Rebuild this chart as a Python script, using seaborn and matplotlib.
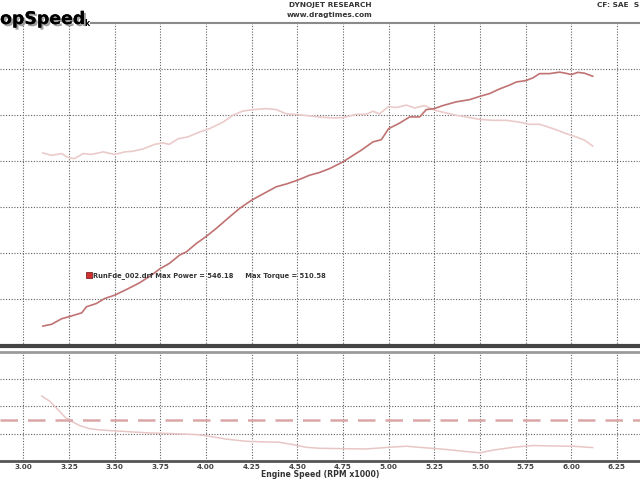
import matplotlib
matplotlib.use("Agg")
import matplotlib.pyplot as plt
import matplotlib.patheffects as pe
import seaborn as sns
import pandas as pd
import numpy as np

# ---------------- data ----------------
power_rpm = [3.106, 3.155, 3.21, 3.264, 3.32, 3.346, 3.40, 3.446, 3.50, 3.565, 3.637, 3.70,
             3.747, 3.80, 3.856, 3.893, 3.947, 4.00, 4.057, 4.13, 4.184, 4.25, 4.31, 4.385,
             4.44, 4.50, 4.567, 4.622, 4.677, 4.75, 4.805, 4.85, 4.914, 4.96, 5.00, 5.06,
             5.115, 5.17, 5.206, 5.25, 5.297, 5.37, 5.443, 5.50, 5.553, 5.607, 5.66, 5.70,
             5.75, 5.79, 5.826, 5.88, 5.936, 5.97, 6.00, 6.036, 6.073, 6.118]
power_hp = [271, 273, 279, 282, 285.4, 292, 295.5, 301, 304.5, 310.7, 318, 326,
            333, 339, 348, 351.5, 360.5, 368, 377, 389.5, 398.5, 407.5, 414, 422,
            425, 429, 434.5, 437.5, 441.7, 449, 456, 461.6, 470.6, 473, 485, 491,
            497.7, 497.7, 505.6, 506.7, 510, 514, 516.4, 520, 523, 528, 532, 535.6,
            537, 540, 544.6, 544.6, 546.2, 545, 543.5, 546, 545, 541.7]

torque_rpm = [3.106, 3.155, 3.21, 3.246, 3.28, 3.328, 3.373, 3.437, 3.50, 3.556, 3.60, 3.656,
              3.72, 3.765, 3.80, 3.847, 3.90, 3.966, 4.02, 4.093, 4.148, 4.20, 4.257, 4.33,
              4.385, 4.44, 4.51, 4.585, 4.622, 4.695, 4.75, 4.823, 4.878, 4.914, 4.95, 5.00,
              5.04, 5.097, 5.142, 5.197, 5.25, 5.316, 5.37, 5.443, 5.50, 5.57, 5.644, 5.717,
              5.77, 5.826, 5.90, 5.972, 6.027, 6.073, 6.118]
torque_lbft = [458.7, 456, 458, 453.6, 452.5, 458, 457, 459.8, 457, 459.8, 460.5, 463,
               468, 469.5, 468, 474, 476, 481.4, 485, 492, 499.5, 504, 505.6, 506.7,
               505.6, 501, 500, 498.4, 497.5, 496.6, 497, 500.5, 500.5, 503.8, 501, 509,
               507.8, 510.5, 507.4, 510, 505, 502, 499.5, 497, 495, 494, 494, 492,
               489.7, 489.7, 485, 479.6, 476, 472.4, 466]

afr_rpm = [3.10, 3.146, 3.19, 3.228, 3.264, 3.31, 3.364, 3.42, 3.50, 3.60, 3.69, 3.82,
           3.947, 4.00, 4.11, 4.22, 4.31, 4.40, 4.475, 4.55, 4.62, 4.75, 4.878, 5.00,
           5.097, 5.206, 5.316, 5.425, 5.50, 5.57, 5.68, 5.79, 5.90, 6.01, 6.118]
afr = [14.76, 14.35, 13.75, 13.21, 12.9, 12.58, 12.36, 12.27, 12.2, 12.12, 12.05, 12.0,
       11.93, 11.85, 11.6, 11.44, 11.4, 11.37, 11.2, 11.0, 10.93, 10.9, 10.88, 11.0,
       11.08, 10.96, 10.84, 10.69, 10.6, 10.79, 11.0, 11.13, 11.1, 11.08, 10.98]
afr_target = 13.0

x_ticks = [3.00, 3.25, 3.50, 3.75, 4.00, 4.25, 4.50, 4.75, 5.00, 5.25, 5.50, 5.75, 6.00, 6.25]
top_yticks = [300, 350, 400, 450, 500, 550]
low_yticks = [12, 14, 16]

run_name = "RunFde_002.drf"
max_power = 546.18
max_torque = 510.58

# ---------------- styling ----------------
sns.set_style("white")
plt.rcParams['font.family'] = ['DejaVu Sans']

power_color = "#c07272"
torque_color = "#ebcaca"
afr_color = "#e8c6c6"
dash_color = "#dba6a6"
grid_kw = dict(color="#606060", linestyle=(0, (1, 1.5)), linewidth=0.8)

fig = plt.figure(figsize=(6.4, 4.8), dpi=100)
H = 480.0
ax1 = fig.add_axes([0.0, 1 - 345.5 / H, 1.0, (345.5 - 22.5) / H])
ax2 = fig.add_axes([0.0, 1 - 461.0 / H, 1.0, (461.0 - 351.5) / H])

xlim = (2.8725, 6.376)

df_p = pd.DataFrame({"rpm": power_rpm, "val": power_hp})
df_t = pd.DataFrame({"rpm": torque_rpm, "val": torque_lbft})
df_a = pd.DataFrame({"rpm": afr_rpm, "val": afr})

sns.lineplot(data=df_t, x="rpm", y="val", ax=ax1, color=torque_color, linewidth=1.2,
             sort=False, estimator=None)
sns.lineplot(data=df_p, x="rpm", y="val", ax=ax1, color=power_color, linewidth=1.2,
             sort=False, estimator=None)

ax1.set_xlim(*xlim)
ax1.set_ylim(250, 600)
ax1.set_xticks(x_ticks)
ax1.set_yticks(top_yticks)
ax1.grid(True, **grid_kw)
ax1.set_axisbelow(True)
ax1.tick_params(labelbottom=False, labelleft=False, length=0)
ax1.set_xlabel("")
ax1.set_ylabel("")
for s in ["left", "right"]:
    ax1.spines[s].set_visible(False)
ax1.spines["top"].set_color("#8a8a8a")
ax1.spines["top"].set_linewidth(1.5)
ax1.spines["bottom"].set_color("#444444")
ax1.spines["bottom"].set_linewidth(3)

# legend-like annotation
ax1.scatter([3.361], [326.2], marker="s", s=14, color="#d03030",
            edgecolor="#6a1010", linewidth=0.5, zorder=5)
ax1.text(3.383, 326.2,
         f"{run_name} Max Power = {max_power:.2f}     Max Torque = {max_torque:.2f}",
         fontsize=4.9, fontweight="bold", color="#333333", va="center", ha="left")

# lower panel
sns.lineplot(data=df_a, x="rpm", y="val", ax=ax2, color=afr_color, linewidth=1.1,
             sort=False, estimator=None)
ax2.axhline(afr_target, color=dash_color, linewidth=1.8, linestyle=(0, (7, 4)))
ax2.set_xlim(*xlim)
ax2.set_ylim(10, 18)
ax2.set_xticks(x_ticks)
ax2.set_xticks(np.arange(2.9, 6.38, 0.05), minor=True)
ax2.set_yticks(low_yticks)
ax2.grid(True, which="major", **grid_kw)
ax2.set_axisbelow(True)
ax2.set_xticklabels([f"{t:.2f}" for t in x_ticks], fontsize=5.2, fontweight="bold",
                    color="#444444")
ax2.tick_params(axis="x", which="major", length=3, width=1, direction="inout",
                color="#555555", pad=0.5)
ax2.tick_params(axis="x", which="minor", length=3, width=0.8, direction="inout",
                color="#555555")
ax2.tick_params(axis="y", labelleft=False, length=0)
ax2.set_xlabel("")
ax2.set_ylabel("")
for s in ["left", "right"]:
    ax2.spines[s].set_visible(False)
ax2.spines["top"].set_color("#9a9a9a")
ax2.spines["top"].set_linewidth(2)
ax2.spines["bottom"].set_color("#555555")
ax2.spines["bottom"].set_linewidth(2)

fig.text(320 / 640, 1 / H, "Engine Speed (RPM x1000)", fontsize=5.6,
         fontweight="bold", color="#333333", ha="center", va="bottom")

# header texts
fig.text(330 / 640, 1 - 5 / H, "DYNOJET RESEARCH", fontsize=5.3, fontweight="bold",
         color="#333333", ha="center", va="center")
fig.text(330 / 640, 1 - 15.5 / H, "www.dragtimes.com", fontsize=5.3, fontweight="bold",
         color="#333333", ha="center", va="center")
fig.text(639 / 640, 1 - 5 / H, "CF: SAE  S", fontsize=5.3, fontweight="bold",
         color="#333333", ha="right", va="center")

# logo
logo = fig.text(0 / 640, 1 - 19 / H, "opSpeed", fontsize=12.5, fontweight="heavy",
                family=["DejaVu Sans"], color="black", ha="left", va="center")
logo.set_path_effects([pe.withSimplePatchShadow(offset=(1.5, -1.5), shadow_rgbFace="#888888",
                                                alpha=0.8), pe.Normal()])
fig.text(84 / 640, 1 - 24 / H, "k", fontsize=5.5, fontweight="heavy", color="black",
         ha="left", va="center")
# top border starts after the logo
ax1.spines["top"].set_bounds(3.0 + (91 - 23.3) / 182.7, xlim[1])

fig.savefig("out.png", dpi=100, facecolor="white")
